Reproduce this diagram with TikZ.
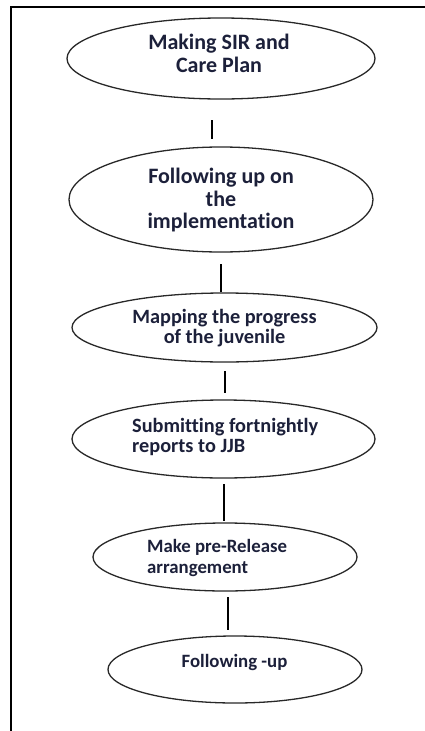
\documentclass[tikz,border=0pt]{standalone}
\usepackage{fontspec}
\setmainfont[Ligatures=NoCommon]{Carlito}
\usetikzlibrary{shapes.geometric}
\definecolor{ink}{RGB}{28,32,58}
\definecolor{edge}{RGB}{40,40,40}
\begin{document}
\begin{tikzpicture}[x=1pt,y=-1pt,
  stage/.style={draw=edge,line width=1.3pt,ellipse,inner sep=0pt,fill=none},
  caption/.style={text=ink,inner sep=0pt},
  big/.style={font=\bfseries\fontsize{22}{23}\selectfont},
  mid/.style={font=\bfseries\fontsize{20.3}{20.5}\selectfont},
  small/.style={font=\bfseries\fontsize{18.8}{21}\selectfont},
  link/.style={draw=black,line width=1.4pt}]
\useasboundingbox (0,0) rectangle (425,731);
\fill[white] (0,0) rectangle (425,731);
% page frame (top and left rules)
\draw[line width=2pt] (425,7.3) -- (11,7.3) -- (11,731);

% stages
\node[stage,minimum width=308pt,minimum height=81pt] (e1) at (221,58.5) {};
\node[stage,minimum width=304pt,minimum height=105pt] (e2) at (221,199.5) {};
\node[stage,minimum width=305pt,minimum height=69pt] (e3) at (224.5,327.5) {};
\node[stage,minimum width=303pt,minimum height=78pt] (e4) at (223.5,439) {};
\node[stage,minimum width=264pt,minimum height=68pt] (e5) at (225,557) {};
\node[stage,minimum width=254pt,minimum height=67pt] (e6) at (235,669.5) {};

% stage captions
\node[caption,big,align=center] (t1) at (219,53.5) {Making SIR and\\Care Plan};
\node[caption,big,align=center,font=\bfseries\fontsize{22}{22.5}\selectfont] (t2) at (221,200.5) {Following up on\\the\\implementation};
\node[caption,mid,align=center] (t3) at (224.5,328) {Mapping the progress\\of the juvenile};
\node[caption,mid,align=left,anchor=west] (t4) at (132,437) {Submitting fortnightly\\reports to JJB};
\node[caption,small,align=left,anchor=west] (t5) at (147,557.5) {Make pre-Release\\arrangement};
\node[caption,small] (t6) at (234.5,662) {Following -up};

% connectors between stages
\coordinate (a1) at (212,120); \coordinate (b1) at (212,139);
\coordinate (a2) at (221,264); \coordinate (b2) at (221,292);
\coordinate (a3) at (225,371); \coordinate (b3) at (225,393);
\coordinate (a4) at (224,484); \coordinate (b4) at (224,521);
\coordinate (a5) at (228,597); \coordinate (b5) at (228,630);
\draw[link] (a1) -- (b1);
\draw[link] (a2) -- (b2);
\draw[link] (a3) -- (b3);
\draw[link] (a4) -- (b4);
\draw[link] (a5) -- (b5);
\end{tikzpicture}
\end{document}
